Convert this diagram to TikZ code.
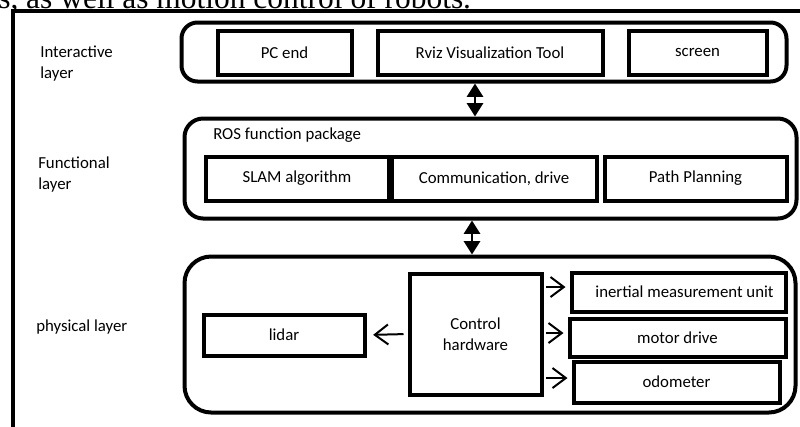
\documentclass[tikz,border=0pt]{standalone}
\usepackage{fontspec}
\setmainfont{Carlito}
\newfontfamily\bodyserif{Liberation Serif}
\usetikzlibrary{arrows.meta,calc}
\begin{document}
\begin{tikzpicture}[x=0.75pt,y=-0.75pt,
  every node/.style={font=\fontsize{12.6pt}{15.75pt}\selectfont, inner sep=0pt},
  layerbox/.style={draw, line width=3pt, rounded corners=12pt},
  itembox/.style={draw, line width=3pt, align=center},
  lbl/.style={anchor=west, align=left},
  sz/.style n args={2}{minimum width={#1*0.75pt}, minimum height={#2*0.75pt}},
  dbl/.style={line width=2pt, {Triangle[length=10pt,width=12pt]}-{Triangle[length=10pt,width=12pt]}},
  oarr/.style={line width=1.5pt, -{Straight Barb[length=10pt,width=15pt,line width=1.5pt]}}
]
\useasboundingbox (0,0) rectangle (800,426);
\clip (0,0) rectangle (800,426);

% cropped paragraph text at top
\node[anchor=base west, font=\bodyserif\fontsize{23.6pt}{26pt}\selectfont] (para) at (-2,8) {s, as well as motion control of robots.};

% outer frame
\coordinate (fr1) at (13,440);
\coordinate (fr2) at (13,11);
\coordinate (fr3) at (810,11);
\draw[line width=2.4pt] (fr1) -- (fr2) -- (fr3);

% layer labels
\node[lbl] (lint) at (40,64) {Interactive\\layer};
\node[lbl] (lfun) at (38,175) {Functional\\layer};
\node[lbl] (lphy) at (36,327) {physical layer};

% interactive layer
\node[layerbox, sz={605}{59}] (inter) at (484,52) {};
\node[itembox, sz={134}{44}] (pc) at (284.5,52.5) {PC end};
\node[itembox, sz={225}{44}] (rviz) at (490,52.5) {Rviz Visualization Tool};
\node[itembox, sz={138}{44}] (scr) at (697.5,52.5) {screen};

% functional layer
\node[layerbox, rounded corners=14pt, sz={612}{100}] (func) at (490.5,168.5) {};
\node[lbl] (ros) at (213,135) {ROS function package};
\node[itembox, sz={183}{44}] (slam) at (297,178.5) {SLAM algorithm};
\node[itembox, sz={205}{44}] (comm) at (494,178.5) {Communication, drive};
\node[itembox, sz={182}{44}] (path) at (695.5,178.5) {Path Planning};

% physical layer
\node[layerbox, rounded corners=20pt, sz={611}{156}] (phys) at (490,334.5) {};
\node[itembox, sz={161}{41}] (lidar) at (284,335) {lidar};
\node[itembox, sz={132}{121}] (ctrl) at (475.5,334) {Control\\hardware};
\node[itembox, sz={214}{39}] (imu) at (678.5,292) {};
\node (imutxt) at (684.5,292) {inertial measurement unit};
\node[itembox, sz={216}{38}] (motor) at (677.5,337.5) {motor drive};
\node[itembox, sz={206}{41}] (odo) at (676.5,382) {odometer};

% connectors
\coordinate (a1) at (475,0);
\coordinate (a2) at (472,0);
\draw[dbl] (inter.south -| a1) -- (func.north -| a1);
\draw[dbl] (func.south -| a2) -- (phys.north -| a2);

\coordinate (r1) at (0,287);
\coordinate (r2) at (0,333);
\coordinate (r3) at (0,378);
\draw[oarr, shorten <=2pt, shorten >=3pt] (ctrl.east |- r1) -- (imu.west |- r1);
\draw[oarr, shorten <=2pt, shorten >=3pt] (ctrl.east |- r2) -- (motor.west |- r2);
\draw[oarr, shorten <=2pt, shorten >=3pt] (ctrl.east |- r3) -- (odo.west |- r3);
\draw[oarr, shorten <=3pt, shorten >=5pt] (ctrl.west) -- (lidar.east);
\end{tikzpicture}
\end{document}
